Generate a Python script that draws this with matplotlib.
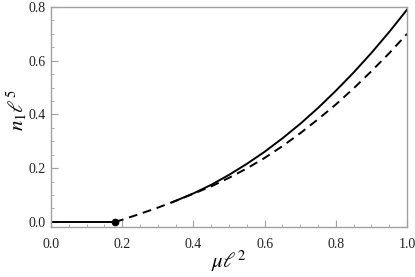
import matplotlib
matplotlib.use("Agg")
import matplotlib.pyplot as plt
from matplotlib.ticker import MultipleLocator

plt.rcParams['font.family'] = ['Liberation Serif', 'DejaVu Serif']
plt.rcParams['mathtext.fontset'] = 'stix'

# Datos
x_plano = [0.0, 0.18]
y_plano = [0.0, 0.0]

x_solida = [0.34, 0.40, 0.45, 0.50, 0.55, 0.60, 0.65, 0.70, 0.75, 0.80, 0.85, 0.90, 0.95, 1.00]
y_solida = [0.073, 0.106, 0.138, 0.175, 0.216, 0.261, 0.311, 0.365, 0.424, 0.488, 0.556, 0.629, 0.707, 0.790]

x_discont = [0.18, 0.20, 0.25, 0.30, 0.35, 0.40, 0.45, 0.50, 0.55, 0.60, 0.65, 0.70, 0.75, 0.80, 0.85, 0.90, 0.95, 1.00]
y_discont = [0.0, 0.008, 0.030, 0.053, 0.078, 0.105, 0.132, 0.164, 0.199, 0.238, 0.282, 0.330, 0.382, 0.437, 0.497, 0.561, 0.628, 0.700]

punto = (0.18, 0.0)

gris = '#a0a0a0'

fig = plt.figure(figsize=(4.15, 2.77), dpi=100)
ax = fig.add_axes([51 / 415, 1 - 227 / 277, 356 / 415, 220 / 277])

ax.plot(x_plano, y_plano, color='black', lw=1.4)
ax.plot(x_solida, y_solida, color='black', lw=1.4)
ax.plot(x_discont, y_discont, color='black', lw=1.4, ls=(0, (4.5, 3)))
ax.plot([punto[0]], [punto[1]], 'o', color='black', ms=4.5)

ax.set_xlim(0, 1.0)
ax.set_ylim(-0.019, 0.8)
ax.xaxis.set_major_locator(MultipleLocator(0.2))
ax.xaxis.set_minor_locator(MultipleLocator(0.05))
ax.yaxis.set_major_locator(MultipleLocator(0.2))
ax.yaxis.set_minor_locator(MultipleLocator(0.05))
ax.set_xticklabels([f'{v:.1f}' for v in ax.get_xticks()])
ax.set_yticklabels([f'{v:.1f}' for v in ax.get_yticks()])

for lado in ax.spines.values():
    lado.set_color(gris)
    lado.set_linewidth(1.0)
ax.tick_params(which='both', direction='in', color=gris, labelsize=10,
               labelcolor='#222222', top=False, right=False)
ax.tick_params(which='major', length=5, width=0.8)
ax.tick_params(which='minor', length=2.5, width=0.6)
ax.tick_params(axis='x', pad=8)
ax.tick_params(axis='y', pad=4)

# Etiquetas de los ejes colocadas a mano
fig.text(229 / 415, 1 - 261 / 277, r'$\mu\ell^2$', fontsize=15,
         ha='center', va='center')
fig.text(17 / 415, 1 - 110 / 277, r'$n_1\ell^5$', fontsize=15,
         ha='center', va='center', rotation=90)

plt.savefig("out.png", dpi=100)
plt.close()
